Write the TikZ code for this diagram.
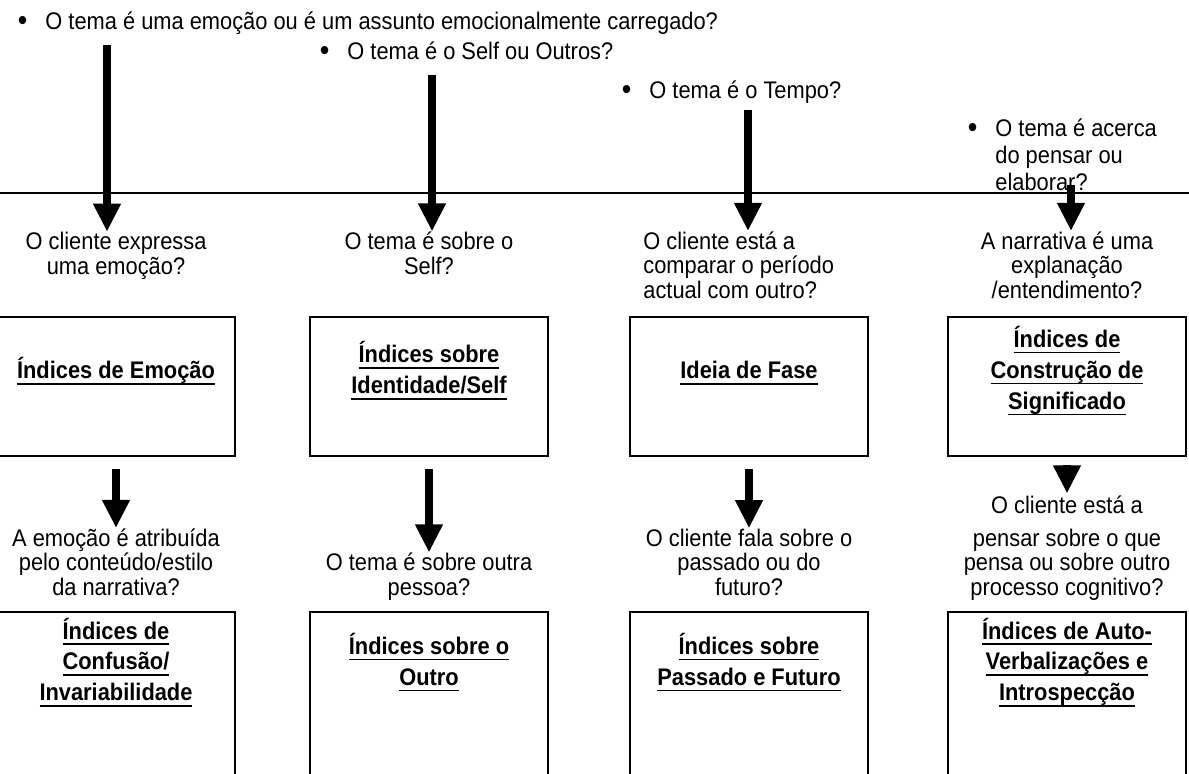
\documentclass[tikz,border=0pt]{standalone}
\usepackage{fontspec}
\setmainfont{Liberation Sans}[FakeStretch=0.91]
\usetikzlibrary{arrows.meta}
\newsavebox{\idxsave}
\newcommand{\idx}[1]{\sbox{\idxsave}{#1}\rlap{\rule[-2.9pt]{\wd\idxsave}{0.8pt}}\usebox{\idxsave}}
\newcommand{\bul}{\llap{\raisebox{-0.8pt}{\fontsize{15}{15}\selectfont\textbullet}\hspace{9pt}}}

\begin{document}
\begin{tikzpicture}[x=0.5pt,y=-0.5pt,font=\fontsize{12}{12.25}\selectfont]
		\tikzset{bigarrow/.style={line width=4pt,-{Triangle[width=13pt,length=14pt]}},
			topic/.style={anchor=base west,inner sep=0pt,align=left},
			question/.style={anchor=base,inner sep=0pt,align=center},
			idxbox/.style={draw,line width=1pt,minimum width=119pt,minimum height=69.5pt,inner sep=0pt},
			idxtext/.style={align=center,inner sep=0pt,font=\fontsize{12}{15.5}\selectfont\bfseries,execute at begin node=\strut,execute at end node=\strut}};
		\useasboundingbox (0,0) rectangle (1189,773);
		\node[topic] (t1) at (45,29) {\bul O tema é uma emoção ou é um assunto emocionalmente carregado?};
		\node[topic] (t2) at (347,59) {\bul O tema é o Self ou Outros?};
		\node[topic] (t3) at (649,98) {\bul O tema é o Tempo?};
		\node[topic,font=\fontsize{12}{13.5}\selectfont] (t4) at (995,190) {\bul O tema é acerca\\do pensar ou\\elaborar?};
		\draw[line width=1pt] (-5,193) -- (1195,193);
		\node[question] (q1) at (116,274) {O cliente expressa\\uma emoção?};
		\node[question] (q2) at (429,274) {O tema é sobre o\\Self?};
		\node[question,anchor=base west,align=left] (q3) at (643,298) {O cliente está a\\comparar o período\\actual com outro?};
		\node[question] (q4) at (1067,298) {A narrativa é uma\\explanação\\/entendimento?};
		\coordinate (s1) at (107,45);
		\coordinate (s2) at (432,75);
		\coordinate (s3) at (748,110);
		\coordinate (s4) at (1071,185);
		\draw[bigarrow] (s1) -- (s1 |- q1.north);
		\draw[bigarrow] (s2) -- (s2 |- q2.north);
		\draw[bigarrow] (s3) -- (s3 |- q3.north);
		\draw[bigarrow] (s4) -- (s4 |- q4.north);
		\node[idxbox] (emo) at (116,386.5) {};
		\node[idxbox] (self) at (429,386.5) {};
		\node[idxbox] (fase) at (749,386.5) {};
		\node[idxbox] (sig) at (1067,386.5) {};
		\node[idxtext] (emot) at ([yshift=7pt]emo.center) {\idx{Índices de Emoção}};
		\node[idxtext] (selft) at ([yshift=7pt]self.center) {\idx{Índices sobre}\\\idx{Identidade/Self}};
		\node[idxtext] (faset) at ([yshift=7pt]fase.center) {\idx{Ideia de Fase}};
		\node[idxtext] (sigt) at ([yshift=7pt]sig.center) {\idx{Índices de}\\\idx{Construção de}\\\idx{Significado}};
		\node[question] (q5) at (116,595) {A emoção é atribuída\\pelo conteúdo/estilo\\da narrativa?};
		\node[question] (q6) at (429,595) {O tema é sobre outra\\pessoa?};
		\node[question] (q7) at (749,595) {O cliente fala sobre o\\passado ou do\\futuro?};
		\node[question] (q8) at (1067,595) {O cliente está a\\[4pt]pensar sobre o que\\pensa ou sobre outro\\processo cognitivo?};
		\draw[bigarrow] ([yshift=-6pt]emo.south) -- (emo.south |- q5.north);
		\draw[bigarrow] ([yshift=-6pt]self.south) -- (self.south |- q6.north);
		\draw[bigarrow] ([yshift=-6pt]fase.south) -- (fase.south |- q7.north);
		\draw[bigarrow] ([yshift=-4pt]sig.south) -- ([yshift=1pt]sig.south |- q8.north);
		\node[idxbox,minimum height=100pt] (conf) at (116,712) {};
		\node[idxbox,minimum height=100pt] (outro) at (429,712) {};
		\node[idxbox,minimum height=100pt] (tempo) at (749,712) {};
		\node[idxbox,minimum height=100pt] (auto) at (1067,712) {};
		\node[idxtext] (conft) at ([yshift=24pt]conf.center) {\idx{Índices de}\\\idx{Confusão/}\\\idx{Invariabilidade}};
		\node[idxtext] (outrot) at ([yshift=24pt]outro.center) {\idx{Índices sobre o}\\\idx{Outro}};
		\node[idxtext] (tempot) at ([yshift=24pt]tempo.center) {\idx{Índices sobre}\\\idx{Passado e Futuro}};
		\node[idxtext] (autot) at ([yshift=24pt]auto.center) {\idx{Índices de Auto-}\\\idx{Verbalizações e}\\\idx{Introspecção}};
	\end{tikzpicture}
\end{document}
